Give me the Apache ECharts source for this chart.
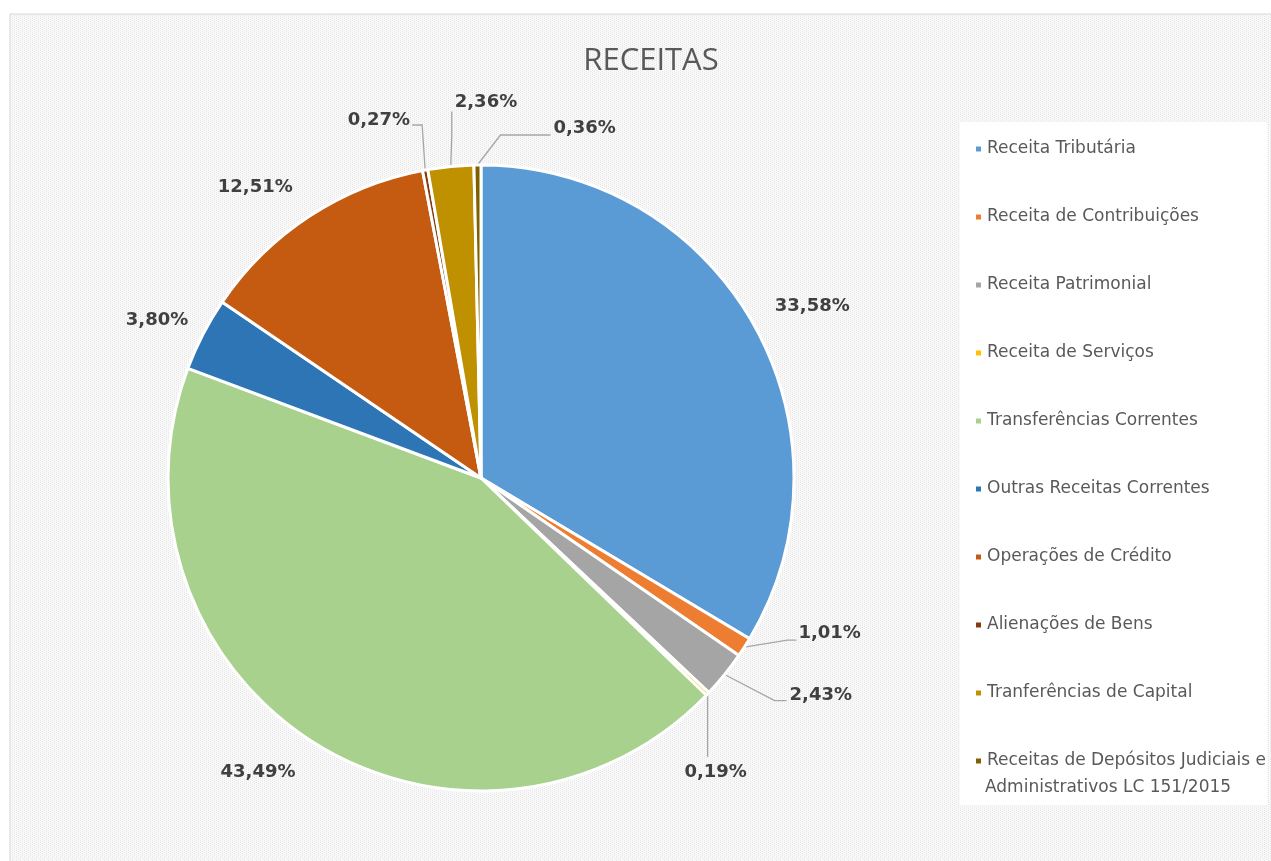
<!DOCTYPE html>
<html lang="pt">

<head>
    <meta charset="UTF-8">
    <title>RECEITAS</title>
    <script src="https://cdn.jsdelivr.net/npm/echarts@6/dist/echarts.min.js"></script>
    <style>
        html, body { margin: 0; padding: 0; background: #fff; }
    </style>
</head>

<body>
    <div id="main" style="width: 1271px; height: 861px;"></div>
    <script>
        // dados
        var categorias = [
            'Receita Tributária',
            'Receita de Contribuições',
            'Receita Patrimonial',
            'Receita de Serviços',
            'Transferências Correntes',
            'Outras Receitas Correntes',
            'Operações de Crédito',
            'Alienações de Bens',
            'Tranferências de Capital',
            'Receitas de Depósitos Judiciais e Administrativos LC 151/2015'
        ];
        var valores = [33.58, 1.01, 2.43, 0.19, 43.49, 3.80, 12.51, 0.27, 2.36, 0.36];
        var cores = ['#5B9BD5', '#ED7D31', '#A5A5A5', '#FFC000', '#A9D18E',
            '#2E75B6', '#C55A11', '#843C0C', '#BF9000', '#7F6000'];

        // posição dos rótulos em relação ao ponto da borda da fatia
        // [dx, dy, align, linha (pontos relativos) ou null]
        var rotulos = {
            0: [59, -17, 'center', null],
            1: [54, -14, 'left', [[43, -7], [52, -7]]],
            2: [65, 21, 'left', [[50, 26], [62, 26]]],
            3: [8, 78, 'center', [[0, 40], [0, 63]]],
            4: [-56, 30, 'center', null],
            5: [-46, -14, 'center', null],
            6: [-54, -29, 'center', null],
            7: [-15, -50, 'right', [[-3, -45], [-13, -45]]],
            8: [4, -64, 'left', [[1, -30], [1, -55]]],
            9: [76, -37, 'left', [[23, -30], [73, -30]]]
        };

        // fundo pontilhado (padrão do Excel)
        var pat = document.createElement('canvas');
        pat.width = 4; pat.height = 4;
        var pc = pat.getContext('2d');
        pc.fillStyle = '#f9f9f9';
        pc.fillRect(0, 0, 4, 4);
        pc.fillStyle = '#e6e6e6';
        pc.fillRect(0, 0, 1, 1);
        pc.fillRect(0, 2, 1, 1);
        pc.fillRect(2, 1, 1, 1);
        pc.fillRect(2, 3, 1, 1);

        var myChart = echarts.init(document.getElementById('main'));

        var option = {
            backgroundColor: '#fff',
            animation: false,
            color: cores,
            graphic: [{
                type: 'rect',
                z: -10,
                shape: { x: 10, y: 14, width: 1300, height: 900 },
                style: { fill: { image: pat, repeat: 'repeat' }, stroke: '#d9d9d9', lineWidth: 1 }
            }, {
                type: 'rect',
                z: -9,
                shape: { x: 960, y: 122, width: 307, height: 683 },
                style: { fill: '#fff' }
            }, {
                type: 'text',
                left: 985,
                top: 779,
                style: {
                    text: 'Administrativos LC 151/2015',
                    font: '17px "DejaVu Sans"',
                    fill: '#595959'
                }
            }],
            title: {
                text: 'RECEITAS',
                left: 646,
                top: 41,
                textAlign: 'center',
                textStyle: {
                    fontFamily: 'Open Sans',
                    fontSize: 31,
                    fontWeight: 'normal',
                    color: '#595959'
                }
            },
            legend: {
                orient: 'vertical',
                left: 974,
                top: 139,
                padding: 0,
                itemWidth: 7,
                itemHeight: 7,
                itemGap: 48,
                icon: 'rect',
                formatter: function (name) {
                    // segunda linha do último item vai como texto à parte
                    return name.replace(' Administrativos LC 151/2015', '');
                },
                textStyle: {
                    fontFamily: 'DejaVu Sans',
                    fontSize: 17,
                    lineHeight: 20,
                    color: '#595959'
                },
                data: categorias
            },
            series: [{
                type: 'pie',
                center: [481, 478],
                radius: 313,
                startAngle: 90,
                clockwise: true,
                avoidLabelOverlap: false,
                itemStyle: { borderColor: '#fff', borderWidth: 3 },
                label: {
                    show: true,
                    position: 'outside',
                    formatter: function (p) {
                        return p.value.toFixed(2).replace('.', ',') + '%';
                    },
                    fontFamily: 'DejaVu Sans',
                    fontSize: 18,
                    fontWeight: 'bold',
                    color: '#404040'
                },
                labelLine: {
                    show: true,
                    length: 20,
                    length2: 10,
                    lineStyle: { color: '#A6A6A6', width: 1.3 }
                },
                labelLayout: function (p) {
                    var r = rotulos[p.dataIndex];
                    var pts = p.labelLinePoints;
                    if (!r || !pts) return {};
                    var e = pts[0];
                    var out = {
                        x: e[0] + r[0],
                        y: e[1] + r[1],
                        align: r[2],
                        verticalAlign: 'middle'
                    };
                    if (r[3]) {
                        out.labelLinePoints = [e].concat(r[3].map(function (q) {
                            return [e[0] + q[0], e[1] + q[1]];
                        }));
                    } else {
                        out.labelLinePoints = [e, e, e];
                    }
                    return out;
                },
                data: categorias.map(function (c, i) {
                    var d = { name: c, value: valores[i] };
                    if (!rotulos[i][3]) {
                        d.labelLine = { lineStyle: { opacity: 0 } };
                    }
                    return d;
                })
            }]
        };

        myChart.setOption(option);
    </script>
</body>

</html>
